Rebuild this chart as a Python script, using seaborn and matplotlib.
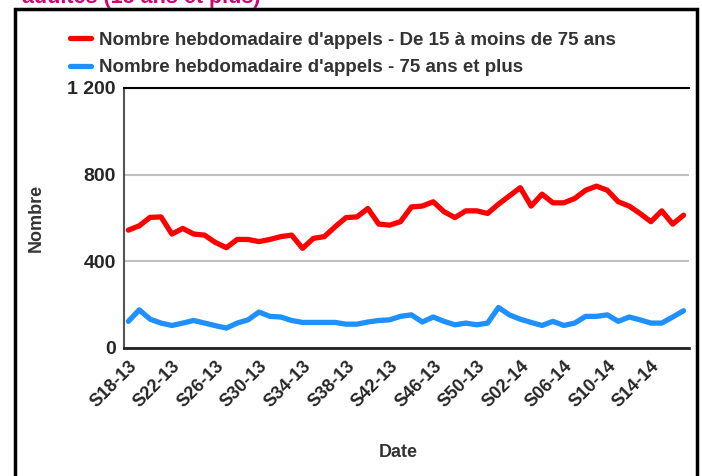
import numpy as np
import pandas as pd
import seaborn as sns
import matplotlib.pyplot as plt
from matplotlib.patches import Rectangle

# semaines S18-13 ... S17-14
weeks = ["S%02d-13" % w for w in range(18, 53)] + ["S%02d-14" % w for w in range(1, 18)]

appels_15_75 = [544, 564, 603, 605, 526, 552, 526, 521, 487, 463,
                501, 501, 491, 501, 514, 521, 460, 506, 514, 560,
                602, 605, 644, 572, 567, 583, 651, 655, 675, 629,
                602, 633, 633, 621, 664, 702, 740, 655, 710, 670,
                670, 690, 728, 747, 728, 675, 655, 621, 583, 633,
                572, 613]
appels_75_plus = [123, 176, 133, 115, 104, 115, 127, 115, 103, 92,
                  115, 130, 166, 146, 143, 127, 118, 118, 118, 118,
                  110, 110, 120, 127, 130, 146, 153, 120, 143, 123,
                  107, 115, 107, 115, 187, 153, 133, 118, 104, 123,
                  104, 115, 146, 146, 153, 123, 143, 130, 115, 115,
                  143, 172]

lab1 = "Nombre hebdomadaire d'appels - De 15 à moins de 75 ans"
lab2 = "Nombre hebdomadaire d'appels - 75 ans et plus"

df = pd.DataFrame({
    "idx": list(range(len(weeks))) * 2,
    "Nombre": appels_15_75 + appels_75_plus,
    "serie": [lab1] * len(weeks) + [lab2] * len(weeks),
})

sns.set_style("white")
plt.rcParams["font.family"] = ["Liberation Sans", "DejaVu Sans"]

fig = plt.figure(figsize=(7.02, 4.76), dpi=100)
ax = fig.add_axes([124 / 702, 1 - 348 / 476, (689 - 124) / 702, (348 - 88) / 476])

sns.lineplot(data=df, x="idx", y="Nombre", hue="serie",
             palette={lab1: "#ff0000", lab2: "#1e90ff"},
             linewidth=3.8, ax=ax)

ax.set_ylim(0, 1200)
ax.set_xlim(-0.4, 51.5)
ax.set_yticks([0, 400, 800, 1200])
ax.set_yticklabels(["0", "400", "800", "1 200"], fontsize=14, fontweight="bold")
ax.yaxis.grid(True, color="#c0c0c0", linewidth=1.5)
ax.set_axisbelow(True)

tick_pos = list(range(0, 49, 4))
ax.set_xticks(tick_pos)
ax.set_xticklabels([weeks[i] for i in tick_pos], rotation=45, ha="right",
                   rotation_mode="anchor", fontsize=13, fontweight="bold")
ax.tick_params(axis="x", direction="inout", length=8, width=1.5, color="black", pad=3)
ax.tick_params(axis="y", length=0, pad=6)

ax.spines["right"].set_visible(False)
ax.spines["top"].set_color("black")
ax.spines["top"].set_linewidth(1.5)
ax.spines["bottom"].set_color("#222222")
ax.spines["bottom"].set_linewidth(2)
ax.spines["left"].set_color("#555555")
ax.spines["left"].set_linewidth(1.5)

ax.set_xlabel("Date", fontsize=13, fontweight="bold", color="#333333")
ax.set_ylabel("Nombre", fontsize=13, fontweight="bold", color="#333333", labelpad=16)
ax.xaxis.set_label_coords(0.485, -0.37)

handles, labels = ax.get_legend_handles_labels()
ax.legend(handles, labels, loc="upper left", bbox_to_anchor=(53 / 702, 1 - 15 / 476),
          bbox_transform=fig.transFigure, frameon=False,
          handlelength=1.1, handletextpad=0.45, labelspacing=0.55,
          prop={"weight": "bold", "size": 13.5})
for t in ax.get_legend().get_texts():
    t.set_color("#333333")

# titre coupé en haut + cadre
fig.text(22 / 702, 1 - 3 / 476, "adultes (15 ans et plus)", fontsize=15.5,
         fontweight="bold", color="#d6006f", va="baseline", ha="left")
fig.patches.append(Rectangle((15 / 702, -0.1), (697 - 15) / 702, 1.1 - 9 / 476,
                             transform=fig.transFigure, fill=False,
                             edgecolor="black", linewidth=2.5))

fig.savefig("out.png", dpi=100)
